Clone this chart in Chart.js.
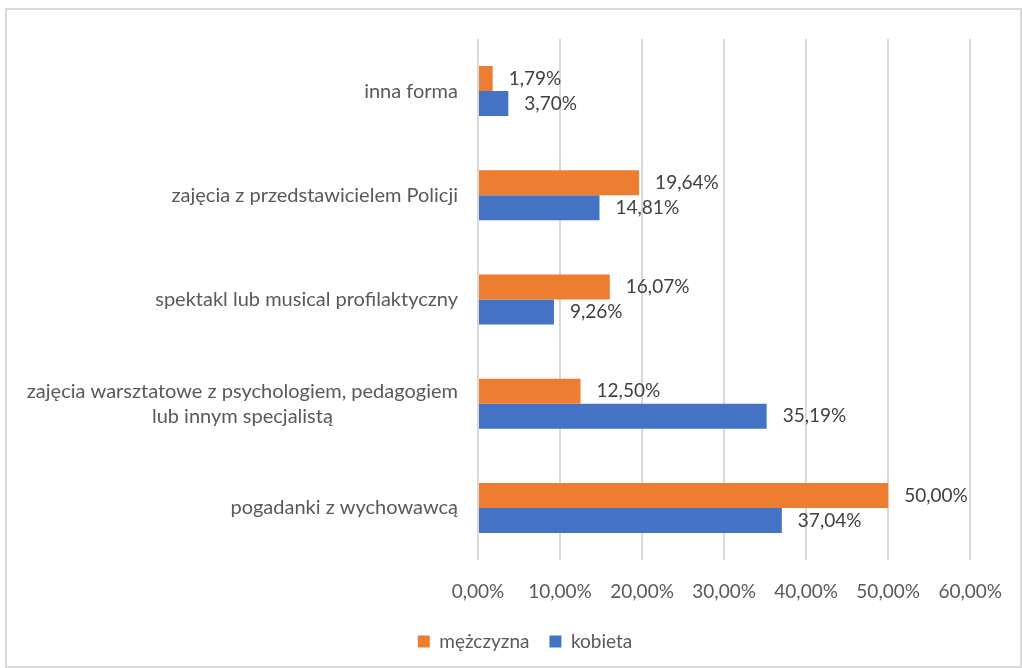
<!DOCTYPE html>
<html>
<head>
<meta charset="utf-8">
<script src="https://cdn.jsdelivr.net/npm/chart.js@4/dist/chart.umd.min.js"></script>
<style>
  html, body { margin: 0; padding: 0; background: #fff; }
  #wrap { position: relative; width: 1022px; height: 668px; }
  #frame {
    position: absolute; left: 5px; top: 8px; width: 1017px; height: 660px;
    border: 2px solid #d9d9d9; box-sizing: border-box; pointer-events: none;
  }
</style>
</head>
<body>
<div id="wrap">
  <canvas id="chart" width="1022" height="668"></canvas>
  <div id="frame"></div>
</div>
<script>
const categories = [
  ["inna forma"],
  ["zajęcia z przedstawicielem Policji"],
  ["spektakl lub musical profilaktyczny"],
  ["zajęcia warsztatowe z psychologiem, pedagogiem", "lub innym specjalistą"],
  ["pogadanki z wychowawcą"],
];
const menValues = [1.79, 19.64, 16.07, 12.5, 50.0];
const womenValues = [3.7, 14.81, 9.26, 35.19, 37.04];
const xTicks = [0, 10, 20, 30, 40, 50, 60];

const FONT = "Lato";
const SIZE = 19;
const fmt = (v) => v.toFixed(2).replace(".", ",") + "%";

const valueLabels = {
  id: "valueLabels",
  afterDatasetsDraw(chart) {
    const { ctx } = chart;
    ctx.save();
    ctx.font = `${SIZE}px ${FONT}`;
    ctx.fillStyle = "#404040";
    ctx.textAlign = "left";
    ctx.textBaseline = "middle";
    chart.data.datasets.forEach((ds, i) => {
      chart.getDatasetMeta(i).data.forEach((bar, j) => {
        ctx.fillText(fmt(ds.data[j]), bar.x + 16, bar.y);
      });
    });
    ctx.restore();
  },
};

// category names: right edge fixed, lines of one label centred on each other
const categoryLabels = {
  id: "categoryLabels",
  afterDraw(chart) {
    const { ctx } = chart;
    const yScale = chart.scales.y;
    const right = 458;
    const lineH = 25;
    ctx.save();
    ctx.font = `20px ${FONT}`;
    ctx.fillStyle = "#595959";
    ctx.textAlign = "center";
    ctx.textBaseline = "middle";
    categories.forEach((lines, i) => {
      const y = yScale.getPixelForValue(i);
      const w = Math.max(...lines.map((l) => ctx.measureText(l).width));
      const cx = right - w / 2;
      const y0 = y - ((lines.length - 1) * lineH) / 2;
      lines.forEach((l, k) => ctx.fillText(l, cx, y0 + k * lineH));
    });
    ctx.restore();
  },
};

new Chart(document.getElementById("chart"), {
  type: "bar",
  data: {
    labels: categories.map((c) => c.join(" ")),
    datasets: [
      {
        label: "mężczyzna",
        data: menValues,
        backgroundColor: "#ED7D31",
        categoryPercentage: 0.48,
        barPercentage: 1,
      },
      {
        label: "kobieta",
        data: womenValues,
        backgroundColor: "#4472C4",
        categoryPercentage: 0.48,
        barPercentage: 1,
      },
    ],
  },
  options: {
    indexAxis: "y",
    responsive: false,
    animation: false,
    layout: { padding: { top: 39, right: 50, bottom: 7, left: 78 } },
    scales: {
      x: {
        min: 0,
        max: 60,
        afterBuildTicks: (scale) => {
          scale.ticks = xTicks.map((v) => ({ value: v }));
        },
        afterFit: (scale) => {
          scale.height = 52;
        },
        grid: { color: "#d9d9d9", lineWidth: 2, drawTicks: false },
        border: { display: false },
        ticks: {
          padding: 20,
          color: "#595959",
          font: { family: FONT, size: SIZE },
          callback: (v) => fmt(v),
        },
      },
      y: {
        grid: { display: false },
        border: { display: false },
        ticks: { display: false },
        afterFit: (scale) => {
          scale.width = 400;
        },
      },
    },
    plugins: {
      legend: {
        position: "bottom",
        labels: {
          boxWidth: 12,
          boxHeight: 12,
          padding: 20,
          color: "#595959",
          font: { family: FONT, size: SIZE },
        },
      },
      tooltip: { enabled: false },
    },
  },
  plugins: [valueLabels, categoryLabels],
});
</script>
</body>
</html>
